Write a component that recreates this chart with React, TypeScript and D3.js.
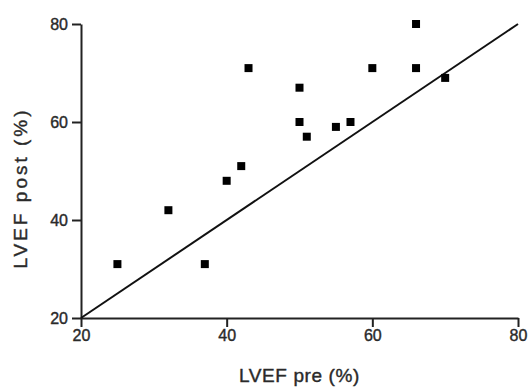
import { useRef, useEffect } from 'react';
import * as d3 from 'd3';

// LVEF before and after, one value pair per patient
const lvefPre = [25, 32, 37, 40, 42, 43, 50, 50, 51, 55, 57, 60, 66, 66, 70];
const lvefPost = [31, 42, 31, 48, 51, 71, 67, 60, 57, 59, 60, 71, 80, 71, 69];
const xTicks = [20, 40, 60, 80];
const yTicks = [20, 40, 60, 80];
const identityLine = [20, 80];

const App = () => {
    const chartRef = useRef<SVGSVGElement>(null);

    useEffect(() => {
        if (!chartRef.current) return;

        d3.select(chartRef.current).selectAll('*').remove();

        const width = 529;
        const height = 388;
        const margin = { top: 24, right: 11, bottom: 70, left: 81 };
        const textColor = '#2a2a2a';

        const svg = d3.select(chartRef.current)
            .attr('width', width)
            .attr('height', height)
            .style('font-family', 'Arial, "Liberation Sans", sans-serif');

        const xScale = d3.scaleLinear()
            .domain([20, 80])
            .range([margin.left, width - margin.right]);

        const yScale = d3.scaleLinear()
            .domain([20, 80])
            .range([height - margin.bottom, margin.top]);

        // x axis
        const xAxis = svg.append('g')
            .attr('transform', `translate(0,${yScale(20)})`)
            .call(d3.axisBottom(xScale).tickValues(xTicks).tickSize(9).tickPadding(3).tickSizeOuter(0));
        xAxis.select('.domain').attr('stroke-width', 2).attr('stroke', '#222');
        xAxis.selectAll('.tick line').attr('stroke-width', 2).attr('stroke', '#222');
        xAxis.selectAll('.tick text')
            .attr('font-size', 16)
            .attr('fill', textColor)
            .attr('stroke', textColor)
            .attr('stroke-width', 0.4);

        // y axis
        const yAxis = svg.append('g')
            .attr('transform', `translate(${xScale(20)},0)`)
            .call(d3.axisLeft(yScale).tickValues(yTicks).tickSize(9).tickPadding(4).tickSizeOuter(0));
        yAxis.select('.domain').attr('stroke-width', 2).attr('stroke', '#222');
        yAxis.selectAll('.tick line').attr('stroke-width', 2).attr('stroke', '#222');
        yAxis.selectAll('.tick text')
            .attr('font-size', 16)
            .attr('fill', textColor)
            .attr('stroke', textColor)
            .attr('stroke-width', 0.4);

        // axis titles
        svg.append('text')
            .attr('x', (xScale(20) + xScale(80)) / 2)
            .attr('y', 382)
            .attr('text-anchor', 'middle')
            .attr('font-size', 19)
            .attr('letter-spacing', 0.6)
            .attr('fill', textColor)
            .attr('stroke', textColor)
            .attr('stroke-width', 0.4)
            .text('LVEF pre (%)');

        svg.append('text')
            .attr('transform', `translate(27,188) rotate(-90)`)
            .attr('text-anchor', 'middle')
            .attr('font-size', 19)
            .attr('letter-spacing', 3)
            .attr('fill', textColor)
            .attr('stroke', textColor)
            .attr('stroke-width', 0.4)
            .text('LVEF post (%)');

        // line of identity
        svg.append('line')
            .attr('x1', xScale(identityLine[0]))
            .attr('y1', yScale(identityLine[0]))
            .attr('x2', xScale(identityLine[1]))
            .attr('y2', yScale(identityLine[1]))
            .attr('stroke', '#111')
            .attr('stroke-width', 2);

        // patient points
        const size = 8;
        svg.selectAll('rect.point')
            .data(lvefPre)
            .enter()
            .append('rect')
            .attr('class', 'point')
            .attr('x', d => xScale(d) - size / 2)
            .attr('y', (_, i) => yScale(lvefPost[i]) - size / 2)
            .attr('width', size)
            .attr('height', size)
            .attr('fill', '#000');
    }, []);

    return <svg ref={chartRef} style={{ position: 'absolute', left: 0, top: 0, background: 'white' }} />;
};

export default App;
